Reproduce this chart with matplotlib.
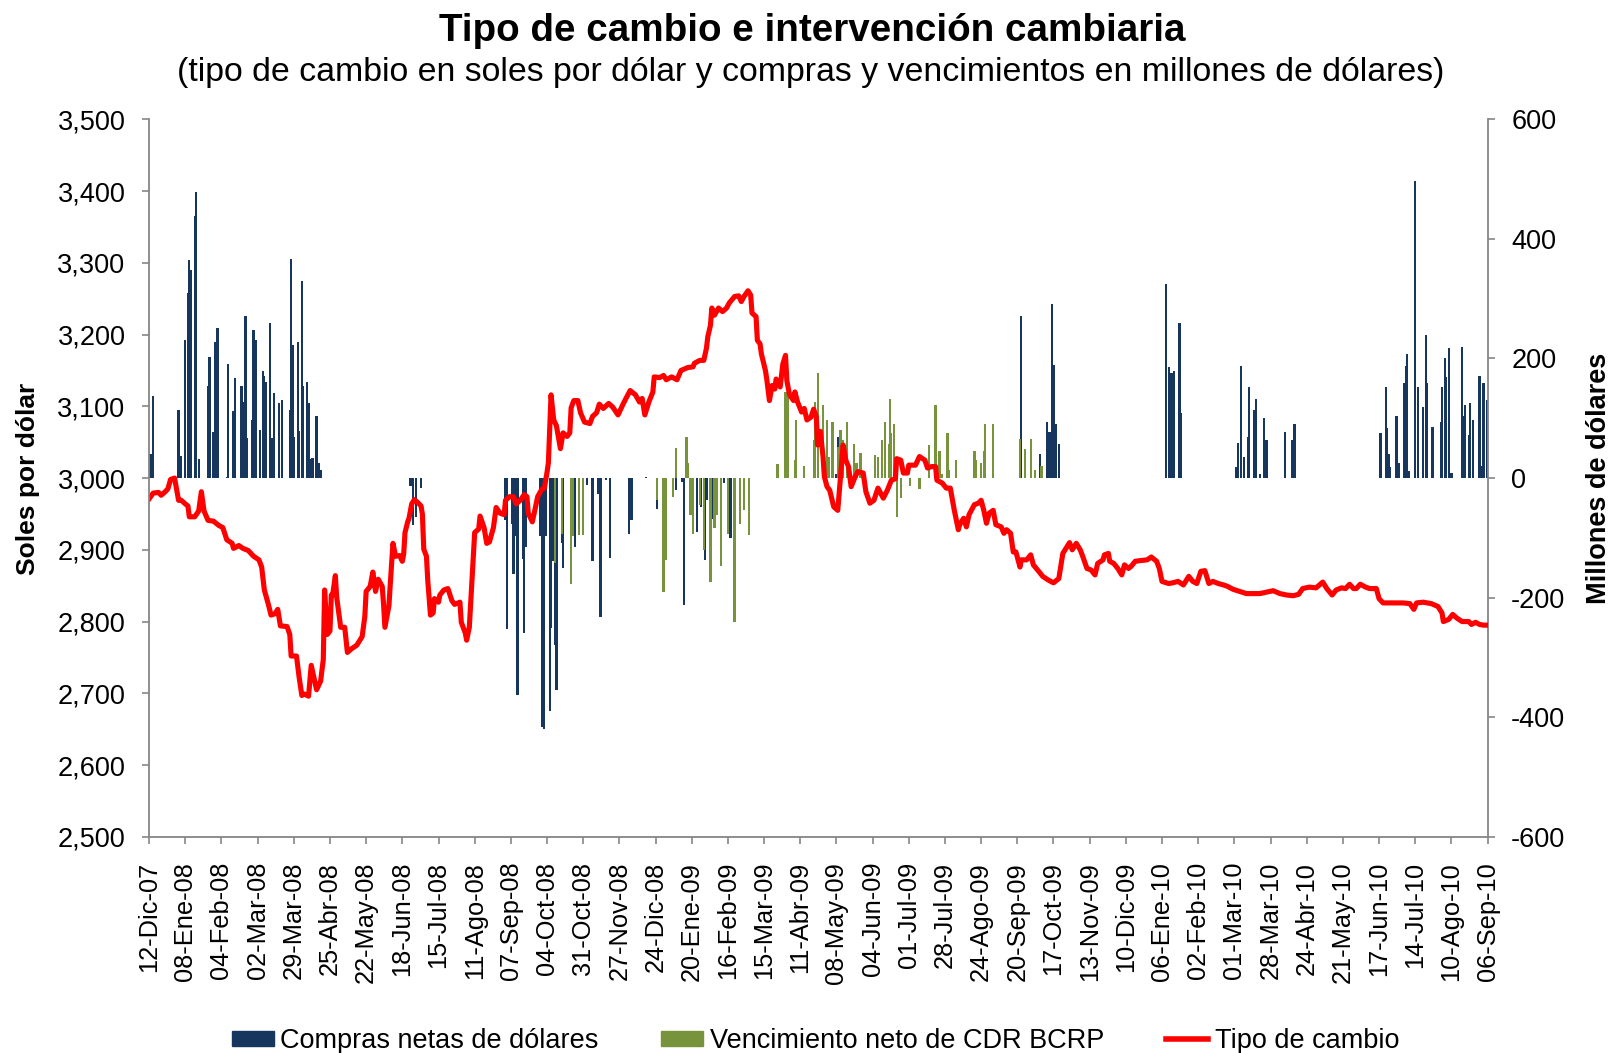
import datetime as dt
import numpy as np
import matplotlib
matplotlib.use("Agg")
import matplotlib.pyplot as plt
from matplotlib.patches import Patch
from matplotlib.lines import Line2D
from matplotlib.ticker import FuncFormatter

plt.rcParams['font.family'] = ['Liberation Sans', 'DejaVu Sans']

INICIO = dt.date(2007, 12, 12)
MESES = ['Ene', 'Feb', 'Mar', 'Abr', 'May', 'Jun', 'Jul', 'Ago', 'Sep', 'Oct', 'Nov', 'Dic']

# tipo de cambio: dias desde el 12-Dic-07 y soles por dolar
tc_dias = [0, 3, 7, 9, 12, 14, 16, 19, 22, 24, 27, 29, 30, 34, 37, 39, 41, 44, 48, 52,
           55, 58, 62, 63, 67, 70, 74, 78, 82, 84, 86, 89, 91, 94, 96, 98, 103, 105, 106, 110,
           112, 114, 116, 119, 121, 125, 128, 130, 131, 133, 135, 136, 137, 139, 140, 143, 146, 148, 151, 155,
           159, 161, 162, 165, 167, 169, 171, 174, 175, 176, 179, 180, 182, 184, 187, 189, 190, 191, 193, 194,
           196, 198, 201, 203, 204, 205, 207, 208, 210, 212, 213, 216, 217, 220, 223, 226, 228, 232, 233, 236,
           237, 239, 241, 243, 246, 247, 250, 252, 254, 257, 259, 262, 265, 266, 269, 272, 274, 277, 280, 282,
           283, 286, 288, 290, 293, 295, 297, 298, 300, 302, 304, 307, 309, 312, 314, 315, 317, 320, 322, 325,
           329, 331, 334, 336, 339, 343, 346, 350, 354, 359, 363, 366, 368, 370, 373, 376, 377, 381, 384, 386,
           390, 394, 397, 402, 406, 407, 411, 414, 416, 417, 419, 420, 422, 425, 428, 431, 433, 437, 440, 442,
           444, 447, 449, 450, 453, 454, 456, 457, 460, 461, 463, 465, 467, 468, 471, 473, 475, 476, 478, 481,
           482, 484, 487, 489, 491, 494, 496, 498, 499, 501, 503, 504, 506, 508, 511, 514, 518, 520, 522, 524,
           527, 529, 533, 535, 538, 541, 544, 548, 551, 554, 557, 558, 561, 563, 566, 567, 572, 575, 579, 581,
           584, 587, 588, 592, 595, 598, 601, 602, 604, 605, 608, 610, 612, 616, 619, 621, 623, 625, 627, 630,
           632, 636, 638, 640, 643, 645, 647, 650, 651, 655, 658, 660, 664, 667, 671, 675, 679, 682, 685, 687,
           689, 692, 695, 697, 700, 703, 706, 708, 712, 713, 716, 717, 720, 723, 726, 728, 731, 733, 736, 740,
           745, 748, 752, 754, 756, 761, 764, 768, 772, 776, 779, 782, 785, 788, 791, 794, 798, 802, 805, 809,
           814, 819, 824, 829, 834, 839, 844, 849, 854, 858, 861, 866, 871, 876, 879, 883, 886, 890, 893, 896,
           899, 901, 904, 908, 911, 916, 918, 921, 929, 936, 941, 944, 946, 951, 957, 962, 965, 966, 970, 973,
           976, 980, 985, 987, 990, 993, 996, 999]
tc_valor = [2.971, 2.979, 2.980, 2.976, 2.981, 2.985, 2.998, 3.000, 2.969, 2.969, 2.964, 2.961, 2.946, 2.946, 2.954, 2.981, 2.954, 2.941, 2.940, 2.934,
            2.931, 2.914, 2.909, 2.902, 2.906, 2.902, 2.899, 2.891, 2.886, 2.876, 2.844, 2.824, 2.809, 2.811, 2.817, 2.794, 2.793, 2.782, 2.752, 2.752,
            2.722, 2.697, 2.699, 2.696, 2.739, 2.705, 2.717, 2.747, 2.844, 2.782, 2.787, 2.837, 2.837, 2.864, 2.834, 2.792, 2.792, 2.757, 2.762, 2.767,
            2.779, 2.807, 2.842, 2.849, 2.869, 2.842, 2.859, 2.849, 2.824, 2.792, 2.822, 2.852, 2.909, 2.891, 2.892, 2.884, 2.894, 2.924, 2.939, 2.944,
            2.964, 2.970, 2.965, 2.961, 2.949, 2.901, 2.891, 2.857, 2.809, 2.812, 2.832, 2.827, 2.837, 2.844, 2.846, 2.829, 2.824, 2.827, 2.799, 2.784,
            2.774, 2.792, 2.857, 2.924, 2.929, 2.947, 2.931, 2.909, 2.911, 2.931, 2.959, 2.951, 2.949, 2.969, 2.974, 2.974, 2.964, 2.969, 2.977, 2.974,
            2.951, 2.939, 2.956, 2.974, 2.984, 2.986, 3.008, 3.021, 3.116, 3.081, 3.073, 3.041, 3.063, 3.058, 3.063, 3.098, 3.108, 3.108, 3.091, 3.078,
            3.076, 3.086, 3.091, 3.103, 3.097, 3.104, 3.099, 3.088, 3.104, 3.122, 3.116, 3.106, 3.111, 3.088, 3.106, 3.120, 3.141, 3.140, 3.143, 3.137,
            3.141, 3.137, 3.150, 3.154, 3.155, 3.160, 3.164, 3.164, 3.181, 3.197, 3.213, 3.237, 3.227, 3.237, 3.232, 3.237, 3.244, 3.253, 3.254, 3.246,
            3.253, 3.261, 3.255, 3.230, 3.225, 3.192, 3.187, 3.173, 3.150, 3.138, 3.108, 3.129, 3.124, 3.138, 3.127, 3.159, 3.171, 3.136, 3.116, 3.108,
            3.120, 3.106, 3.092, 3.097, 3.081, 3.085, 3.096, 3.085, 3.046, 3.065, 3.030, 3.002, 2.988, 2.983, 2.960, 2.955, 3.046, 3.025, 3.016, 2.988,
            3.002, 3.009, 3.007, 2.981, 2.965, 2.969, 2.986, 2.972, 2.983, 2.997, 2.999, 3.027, 3.025, 3.007, 3.007, 3.018, 3.018, 3.030, 3.025, 3.014,
            3.016, 3.016, 2.997, 2.993, 2.986, 2.986, 2.955, 2.946, 2.928, 2.935, 2.944, 2.932, 2.949, 2.963, 2.965, 2.969, 2.955, 2.937, 2.951, 2.955,
            2.935, 2.932, 2.923, 2.928, 2.923, 2.897, 2.897, 2.876, 2.886, 2.886, 2.893, 2.879, 2.870, 2.863, 2.858, 2.854, 2.860, 2.895, 2.904, 2.910,
            2.900, 2.909, 2.900, 2.890, 2.874, 2.872, 2.865, 2.881, 2.886, 2.893, 2.895, 2.884, 2.881, 2.874, 2.865, 2.879, 2.874, 2.877, 2.884, 2.885,
            2.886, 2.890, 2.884, 2.874, 2.856, 2.853, 2.854, 2.856, 2.851, 2.863, 2.856, 2.853, 2.870, 2.871, 2.853, 2.856, 2.853, 2.851, 2.849, 2.845,
            2.842, 2.839, 2.839, 2.839, 2.841, 2.843, 2.839, 2.837, 2.836, 2.838, 2.846, 2.848, 2.847, 2.855, 2.846, 2.837, 2.844, 2.847, 2.846, 2.852,
            2.846, 2.846, 2.852, 2.848, 2.846, 2.846, 2.832, 2.826, 2.826, 2.826, 2.825, 2.817, 2.826, 2.827, 2.825, 2.821, 2.812, 2.800, 2.803, 2.810,
            2.805, 2.800, 2.800, 2.796, 2.799, 2.796, 2.795, 2.795]

# compras netas de dolares (millones US$)
compras_dias = [1, 3, 22, 24, 27, 29, 30, 31, 34, 35, 37, 44, 45, 48, 49, 51, 58, 59, 63, 64,
                69, 71, 72, 73, 77, 78, 80, 83, 85, 86, 87, 90, 91, 92, 93, 97, 99, 105, 106, 107,
                108, 111, 112, 114, 115, 118, 119, 121, 122, 125, 127, 128,
                195, 197, 199, 203, 266, 267, 271, 272, 274, 275, 279, 280, 281, 292, 293, 295, 296, 299,
                300, 301, 303, 304, 308, 309, 317, 318, 327, 331, 335, 337, 341, 344,
                358, 359, 360, 371, 379, 393, 398, 399, 406, 409, 412, 415, 416, 420, 429, 434,
                513, 514, 651, 665, 670, 671, 672, 674, 675, 677, 679,
                759, 761, 763, 764, 765, 769, 770, 811, 813, 815, 817, 820, 821, 825, 826, 829, 832, 834, 848, 853,
                854, 855,
                919, 923, 924, 925, 926, 931, 933, 937, 938, 939, 940, 945, 947, 951, 953, 954, 958, 964, 965, 967,
                968, 970, 972, 980, 981, 982, 985, 986, 988, 993, 995, 996, 999]
compras_valor = [40, 137, 113, 37, 231, 309, 364, 348, 438, 478, 32, 154, 203, 77, 228, 251, 2, 191, 112, 168,
                 154, 128, 271, 67, 97, 248, 231, 80, 179, 171, 160, 259, 64, 67, 142, 125, 131, 113, 367, 222,
                 68, 227, 79, 330, 154, 161, 125, 32, 34, 103, 25, 14,
                 -14, -79, -65, -17, -70, -253, -76, -160, -97, -363, -136, -259, -115, -97, -417, -420, -97, -390,
                 -250, -139, -280, -354, -109, -151, -97, -115, -12, -139, -26, -232, -4, -133,
                 -93, -48, -70, 2, -51, -20, -6, -212, -62, -90, -48, -137, -37, -69, -9, -101,
                 7, 69, 271, 40, 94, 75, 77, 291, 189, 91, 57,
                 324, 185, 176, 113, 179, 259, 108, 19, 59, 187, 35, 68, 152, 113, 132, 7, 100, 64, 77, 64,
                 29, 91,
                 75, 152, 83, 40, 18, 103, 26, 159, 187, 208, 11, 496, 152, 119, 239, 159, 86, 94, 152, 200,
                 169, 217, 9, 220, 104, 122, 72, 125, 97, 171, 20, 159, 130]

# vencimiento neto de CDR BCRP (millones US$)
cdr_dias = [303, 308, 315, 316, 321, 324,
            379, 384, 386, 391, 393, 401, 402, 404, 406, 411, 414, 419, 422, 424, 427, 432, 437, 441, 444, 448,
            469, 475, 476, 477, 482, 483, 489, 496, 497, 499, 503, 506, 507, 510, 514, 516, 518, 521, 526, 528,
            531, 542, 544, 547, 549, 552, 553, 554, 556, 558, 561, 568, 575, 582, 587, 590, 592, 596, 597, 602,
            616, 617, 621, 623, 624, 630, 650, 654, 658, 661, 666]
cdr_valor = [-142, -94, -178, -97, -96, -96,
             -37, -190, -137, -31, 51, 69, 26, -62, -93, -45, -120, -173, -84, -62, -147, -93, -240, -76, -54, -95,
             23, 144, 97, 137, 31, 97, 20, 64, 128, 176, 122, 97, 35, 94, 52, 80, 64, 94, 57, 26,
             42, 38, 35, 64, 94, 57, 132, 75, 91, -65, -34, -13, -19, 55, 122, 46, 7, 75, 14, 31,
             46, 31, 26, 46, 91, 91, 66, 48, 66, 14, 20]


def a_fecha(dias):
    return [INICIO + dt.timedelta(days=d) for d in dias]


def etiqueta(fecha):
    return '%02d-%s-%02d' % (fecha.day, MESES[fecha.month - 1], fecha.year % 100)


fig = plt.figure(figsize=(16.12, 10.53), dpi=100)
ax = fig.add_axes([0.0925, 0.2053, 0.8303, 0.6814])
ax2 = ax.twinx()

ax2.bar(a_fecha(compras_dias), compras_valor, width=1.7, color='#17365D', linewidth=0)
ax2.bar(a_fecha(cdr_dias), cdr_valor, width=1.7, color='#77933C', linewidth=0)
ax.plot(a_fecha(tc_dias), tc_valor, color='#FF0000', lw=3.7, solid_joinstyle='round')

# linea por encima de las barras
ax.set_zorder(ax2.get_zorder() + 1)
ax.patch.set_visible(False)

ax.set_ylim(2.5, 3.5)
ax.set_yticks(np.linspace(2.5, 3.5, 11))
ax.yaxis.set_major_formatter(FuncFormatter(lambda v, _: ('%.3f' % v).replace('.', ',')))
ax2.set_ylim(-600, 600)
ax2.set_yticks(range(-600, 601, 200))
ax2.yaxis.set_major_formatter(FuncFormatter(lambda v, _: '%d' % v))

ticks = a_fecha(range(0, 1000, 27))
ax.set_xlim(INICIO, INICIO + dt.timedelta(days=999))
ax.set_xticks(ticks)
ax.set_xticklabels([etiqueta(f) for f in ticks], rotation=90)

gris = '#868686'
for a in (ax, ax2):
    a.spines['top'].set_visible(False)
    for s in a.spines.values():
        s.set_color(gris)
        s.set_linewidth(1.3)
ax.spines['right'].set_visible(False)
ax2.spines['left'].set_visible(False)
ax2.spines['bottom'].set_visible(False)

ax.tick_params(axis='y', length=5, width=1.2, color=gris, labelsize=19.5, pad=12)
ax2.tick_params(axis='y', length=5, width=1.2, color=gris, labelsize=19.5, pad=12)
ax.tick_params(axis='x', length=5, width=1.2, color=gris, labelsize=18.3, pad=13)

fig.text(0.504, 0.961, 'Tipo de cambio e intervención cambiaria',
         ha='center', va='baseline', fontsize=27.8, fontweight='bold')
fig.text(0.503, 0.923, '(tipo de cambio en soles por dólar y compras y vencimientos en millones de dólares)',
         ha='center', va='baseline', fontsize=24.4)
fig.text(28 / 1612, 1 - 479 / 1053, 'Soles por dólar', rotation=90,
         ha='center', va='center', fontsize=19, fontweight='bold')
fig.text(1599 / 1612, 1 - 478 / 1053, 'Millones de dólares', rotation=90,
         ha='center', va='center', fontsize=19.5, fontweight='bold')

handles = [Patch(color='#17365D'), Patch(color='#77933C'), Line2D([], [], color='#FF0000', lw=4)]
labels = ['Compras netas de dólares', 'Vencimiento neto de CDR BCRP', 'Tipo de cambio']
fig.legend(handles, labels, loc='center', bbox_to_anchor=(0.506, 0.0115), ncol=3,
           frameon=False, fontsize=19.5, handlelength=1.55, handleheight=0.5,
           handletextpad=0.25, columnspacing=2.3, borderpad=0, borderaxespad=0)

fig.savefig('out.png', dpi=100)
